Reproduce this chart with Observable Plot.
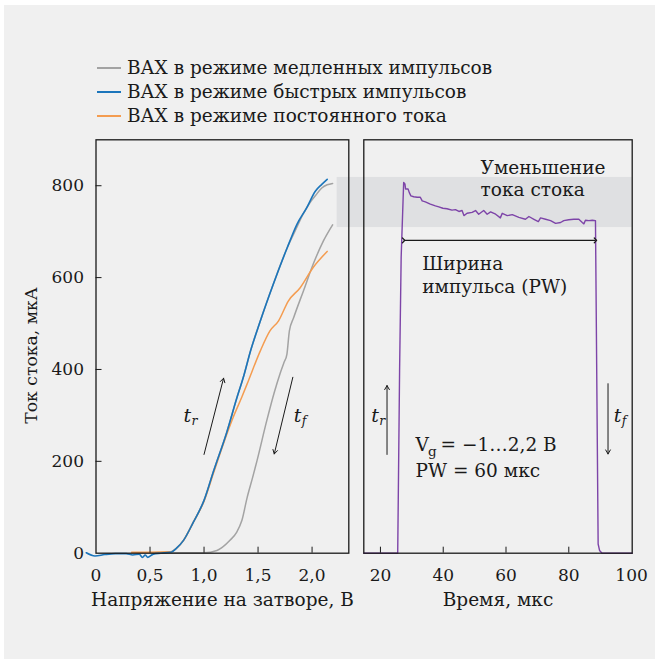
<!DOCTYPE html>
<html><head><meta charset="utf-8">
<script src="https://cdn.jsdelivr.net/npm/d3@7"></script>
<script src="https://cdn.jsdelivr.net/npm/@observablehq/plot@0.6"></script>
<style>
body{margin:0;background:#fff;}
#wrap{position:relative;width:655px;height:660px;overflow:hidden;font-family:"DejaVu Serif";color:#1a1a1a;}
#bg{position:absolute;left:4px;top:5px;width:651px;height:654px;background:#f0f0f0;}
#legend{position:absolute;left:97px;top:56px;font-size:18.5px;line-height:24px;}
.item{display:flex;align-items:center;height:24px;white-space:nowrap;}
.sw{display:inline-block;width:24px;height:0;border-top:2px solid;margin-right:6px;}
#right,#left{position:absolute;top:130px;}
#right{left:330px;} #left{left:0;}
</style></head>
<body>
<div id="wrap"><div id="bg"></div><div id="legend"></div><div id="right"></div><div id="left"></div></div>
<script>
// ---- data ----
const seriesNames = ["ВАХ в режиме медленных импульсов", "ВАХ в режиме быстрых импульсов", "ВАХ в режиме постоянного тока"];
const seriesColors = ["#a3a3a3", "#1b75bb", "#f49c50"];
const pulseColor = "#7d44a8";

const leftXTicks = [0, 0.5, 1, 1.5, 2];
const yTicks = [0, 200, 400, 600, 800];
const rightXTicks = [20, 40, 60, 80, 100];

const fastV = [-0.09,-0.01,0.08,0.18,0.28,0.34,0.40,0.43,0.455,0.48,0.53,0.60,0.69,0.75,0.81,0.90,1.00,1.09,1.21,1.30,1.37,1.43,1.52,1.64,1.77,1.86,1.95,2.03,2.09,2.14];
const fastI = [1,-6,-3,-1,-1,-4,-2,-9,-4,-9,-2,0,2,12,28,67,115,180,263,335,388,440,505,585,665,716,752,788,803,814];

const slowRiseV = [0.60,0.69,0.75,0.81,0.90,1.00,1.09,1.21,1.30,1.37,1.43,1.52,1.64,1.77,1.84,1.91,1.98,2.03,2.09,2.14,2.19];
const slowRiseI = [1,3,12,28,67,115,180,263,335,388,440,505,585,665,700,735,763,778,795,802,805];

const slowFallV = [0.60,1.00,1.12,1.24,1.30,1.35,1.40,1.45,1.49,1.58,1.65,1.705,1.74,1.767,1.79,1.83,1.92,2.01,2.105,2.19];
const slowFallI = [1,1,6,28,45,71,122,165,201,288,350,392,415,433,484,513,571,629,680,715];

const dcV = [0.33,0.50,0.69,0.75,0.81,0.90,1.00,1.09,1.17,1.27,1.35,1.41,1.52,1.61,1.69,1.78,1.89,2.01,2.14];
const dcI = [2,2,3,12,28,67,113,176,232,296,340,375,440,484,506,549,578,622,657];

const pulseT = [14.7,25.5,26.1,26.6,27.4,27.8,28.0,28.8,29.2,29.7,30.6,31.7,32.7,33.3,34.3,35.9,37.5,38.6,39.9,41.2,42.8,43.9,45.0,46.0,46.6,47.6,49.2,50.3,51.3,52.9,54.0,55.1,56.7,58.2,58.8,60.4,62.0,64.1,66.2,67.3,68.9,70.3,71.0,72.6,74.2,75.8,77.4,78.4,80.0,81.6,83.2,84.3,84.8,85.3,86.4,87.5,88.5,89.35,89.8,90.6,100.2];
const pulseI = [0,0,397,644,807,804,793,793,785,778,776,775,775,767,765,760,756,754,751,750,747,748,744,746,735,740,742,746,738,746,738,743,738,730,740,735,737,731,727,733,727,722,730,727,724,718,720,724,726,727,727,720,717,725,724,725,724,20,6,0,0];

// annotation anchors (data coordinates)
const bandT = [6.2, 100.2];
const bandI = [709, 818];
const leftArrows = [{x1:1.0, y1:215, x2:1.181, y2:381}, {x1:1.822, y1:383, x2:1.65, y2:216}];
const rightArrows = [{x1:22.1, y1:215, x2:22.1, y2:365}, {x1:92.5, y1:369, x2:92.5, y2:216}];
const pwArrow = [{x1:27.4, x2:88.5, y:681}];
const leftT = [{x:0.81, y:286, sub:"r"}, {x:1.83, y:285, sub:"f"}];
const rightT = [{x:17.1, y:285, sub:"r"}, {x:94.3, y:285, sub:"f"}];
const rightNotes = [
  {x:51.9, y:825.5, text:"Уменьшение"},
  {x:51.9, y:778, text:"тока стока"},
  {x:33.3, y:616.6, text:"Ширина"},
  {x:33.3, y:565.7, text:"импульса (PW)"},
  {x:31.2, y:166.9, text:"PW = 60 мкс"}
];
const vgNote = [{x:31.2, y:223.5}];
const xLabelLeft = ["Напряжение на затворе, В"];
const xLabelRight = ["Время, мкс"];
const yLabel = ["Ток стока, мкА"];

// ---- build tables ----
const zip = (xs, ys) => xs.map((x, k) => ({x, y: ys[k]}));
const fast = zip(fastV, fastI), slowRise = zip(slowRiseV, slowRiseI), slowFall = zip(slowFallV, slowFallI), dc = zip(dcV, dcI);
const pulse = zip(pulseT, pulseI);
const fmt = d => d === 0 ? "0" : d.toFixed(1).replace(".", ",");
const ink = "#1a1a1a";
const LBL = 18.5;
const fontStyle = {background:"transparent", fontFamily:"DejaVu Serif", fontSize:"17px", color:ink, overflow:"visible"};

// legend
const legend = d3.select("#legend");
seriesNames.forEach((n, k) => {
  const it = legend.append("div").attr("class", "item");
  it.append("span").attr("class", "sw").style("border-color", seriesColors[k]);
  it.append("span").text(n);
});

const H = 490, mT = 9.3, mB = 67.3, innerH = H - mT - mB;

// left panel
const LW = 360, LmL = 95.5, LmR = 11.7, LinnerW = LW - LmL - LmR;
const left = Plot.plot({
  width: LW, height: H, marginLeft: LmL, marginRight: LmR, marginTop: mT, marginBottom: mB,
  style: fontStyle,
  x: {domain: [0, 2.34]},
  y: {domain: [0, 900]},
  marks: [
    Plot.line(slowFall, {x:"x", y:"y", stroke: seriesColors[0], strokeWidth: 1.5, curve: "monotone-x"}),
    Plot.line(slowRise, {x:"x", y:"y", stroke: seriesColors[0], strokeWidth: 1.5, curve: "monotone-x"}),
    Plot.line(dc, {x:"x", y:"y", stroke: seriesColors[2], strokeWidth: 1.5, curve: "monotone-x"}),
    Plot.line(fast, {x:"x", y:"y", stroke: seriesColors[1], strokeWidth: 1.6, curve: "monotone-x"}),
    Plot.frame({stroke: ink, strokeWidth: 1.3}),
    Plot.tickX(leftXTicks.slice(1), {x: d => d, insetTop: innerH - 6, stroke: ink}),
    Plot.tickY(yTicks.slice(1), {y: d => d, insetRight: LinnerW - 6, stroke: ink}),
    Plot.axisX(leftXTicks, {tickSize: 0, tickPadding: 15.5, tickFormat: fmt, label: null}),
    Plot.axisY(yTicks, {tickSize: 0, tickPadding: 12, label: null}),
    Plot.text(xLabelLeft, {text: d => d, frameAnchor: "bottom", dy: 52.3, lineAnchor: "bottom", fontSize: LBL, fill: ink}),
    Plot.text(yLabel, {text: d => d, frameAnchor: "left", rotate: -90, dx: -59.5, dy: 9, textAnchor: "middle", lineAnchor: "bottom", fontSize: 17.2, fill: ink}),
    Plot.arrow(leftArrows, {x1:"x1", y1:"y1", x2:"x2", y2:"y2", stroke: ink, strokeWidth: 1, headLength: 7}),
    Plot.text(leftT, {x:"x", y:"y", text: () => "t", fontStyle: "italic", fontSize: 19, textAnchor: "start", lineAnchor: "bottom", fill: ink}),
    Plot.text(leftT, {x:"x", y:"y", text: "sub", fontStyle: "italic", fontSize: 12.5, textAnchor: "start", lineAnchor: "bottom", dx: 8, dy: 3, fill: ink})
  ]
});
document.getElementById("left").append(left);

// right panel
const RW = 325, RmL = 33.3, RmR = 23.3, RinnerW = RW - RmL - RmR;
const right = Plot.plot({
  width: RW, height: H, marginLeft: RmL, marginRight: RmR, marginTop: mT, marginBottom: mB,
  style: fontStyle,
  x: {domain: [14.7, 100.2]},
  y: {domain: [0, 900], axis: null},
  marks: [
    Plot.rect([0], {x1: () => bandT[0], x2: () => bandT[1], y1: () => bandI[0], y2: () => bandI[1], fill: "#dfe0e2"}),
    Plot.line(pulse, {x:"x", y:"y", stroke: pulseColor, strokeWidth: 1.4}),
    Plot.frame({stroke: ink, strokeWidth: 1.3}),
    Plot.tickX(rightXTicks.slice(0, 4), {x: d => d, insetTop: innerH - 6, stroke: ink}),
    Plot.axisX(rightXTicks, {tickSize: 0, tickPadding: 15.5, label: null}),
    Plot.text(xLabelRight, {text: d => d, frameAnchor: "bottom", dy: 52.3, lineAnchor: "bottom", fontSize: LBL, fill: ink}),
    Plot.link(pwArrow, {x1:"x1", x2:"x2", y1:"y", y2:"y", stroke: ink, strokeWidth: 1.2, markerStart: "arrow", markerEnd: "arrow"}),
    Plot.arrow(rightArrows, {x1:"x1", y1:"y1", x2:"x2", y2:"y2", stroke: ink, strokeWidth: 1, headLength: 7}),
    Plot.text(rightT, {x:"x", y:"y", text: () => "t", fontStyle: "italic", fontSize: 19, textAnchor: "start", lineAnchor: "bottom", fill: ink}),
    Plot.text(rightT, {x:"x", y:"y", text: "sub", fontStyle: "italic", fontSize: 12.5, textAnchor: "start", lineAnchor: "bottom", dx: 8, dy: 3, fill: ink}),
    Plot.text(rightNotes, {x:"x", y:"y", text: "text", textAnchor: "start", lineAnchor: "bottom", fontSize: LBL, fill: ink}),
    Plot.text(vgNote, {x:"x", y:"y", text: () => "V", textAnchor: "start", lineAnchor: "bottom", fontSize: LBL, fill: ink}),
    Plot.text(vgNote, {x:"x", y:"y", text: () => "g", fontSize: 13.5, textAnchor: "start", lineAnchor: "bottom", dx: 12.5, dy: 5, fill: ink}),
    Plot.text(vgNote, {x:"x", y:"y", text: () => "= −1…2,2 В", textAnchor: "start", lineAnchor: "bottom", fontSize: LBL, dx: 25, fill: ink})
  ]
});
document.getElementById("right").append(right);
</script>
</body></html>
